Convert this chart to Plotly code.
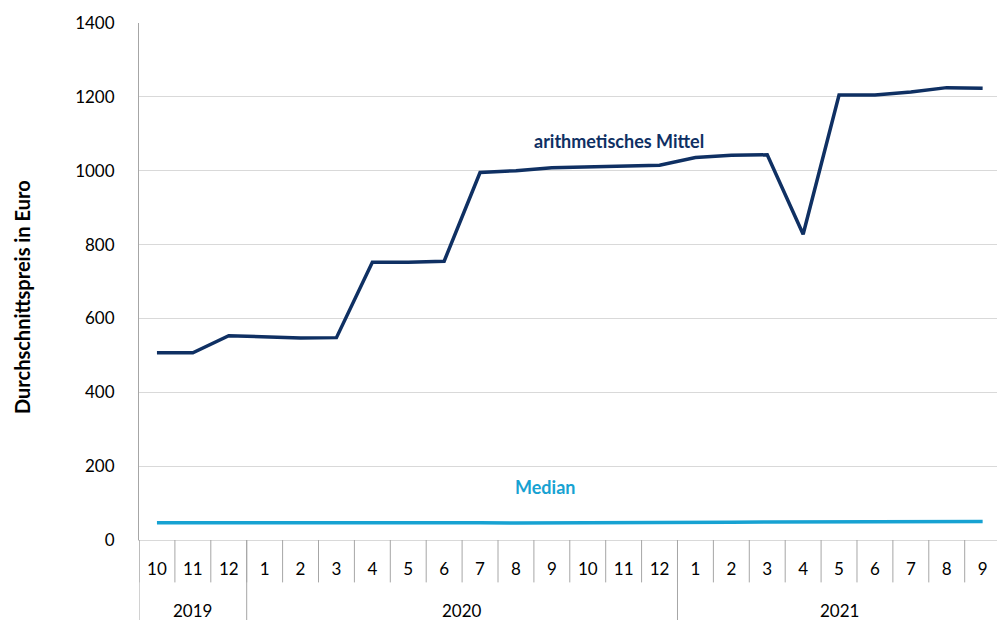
import plotly.graph_objects as go

months = ["10", "11", "12", "1", "2", "3", "4", "5", "6", "7", "8", "9", "10", "11", "12",
          "1", "2", "3", "4", "5", "6", "7", "8", "9"]
years = ["2019", "2020", "2021"]
year_counts = [3, 12, 9]
mittel = [507, 507, 553, 549, 547, 548, 752, 752, 755, 995, 1000, 1008, 1010, 1014, 1015,
          1036, 1042, 1043, 828, 1205, 1205, 1213, 1225, 1223]
median = [47, 47, 47, 48, 49, 48, 48, 48, 49, 47, 46, 46, 46, 47, 47,
          47, 48, 49, 49, 49, 49, 50, 50, 50]
y_ticks = [0, 200, 400, 600, 800, 1000, 1200, 1400]

NAVY = "#0f3063"
BLUE = "#17a2d2"
FONT = "Lato"

x = list(range(len(months)))

fig = go.Figure()
fig.add_trace(go.Scatter(x=x, y=mittel, mode="lines", line=dict(color=NAVY, width=3.5),
                         name="arithmetisches Mittel", showlegend=False))
fig.add_trace(go.Scatter(x=x, y=median, mode="lines", line=dict(color=BLUE, width=3.5),
                         name="Median", showlegend=False))

shapes = []
# month dividers
for i in range(len(months) + 1):
    shapes.append(dict(type="line", xref="x", yref="paper", x0=i - 0.5, x1=i - 0.5,
                       y0=0, y1=-0.082, line=dict(color="#a6a6a6", width=1)))
# year dividers
b = -0.5
annotations = []
for yr, c in zip(years, year_counts):
    shapes.append(dict(type="line", xref="x", yref="paper", x0=b, x1=b,
                       y0=0, y1=-0.16, line=dict(color="#a6a6a6", width=1)))
    annotations.append(dict(x=b + c / 2, y=-0.137, xref="x", yref="paper", text=yr,
                            showarrow=False, font=dict(size=17, color="#000000", family=FONT),
                            xanchor="center", yanchor="middle"))
    b += c

annotations.append(dict(x=12.86, y=1080, xref="x", yref="y", text="<b>arithmetisches Mittel</b>",
                        showarrow=False, font=dict(size=18, color=NAVY, family=FONT)))
annotations.append(dict(x=10.8, y=143, xref="x", yref="y", text="<b>Median</b>",
                        showarrow=False, font=dict(size=18, color=BLUE, family=FONT)))
annotations.append(dict(x=-(139 - 22) / 858, y=0.47, xref="paper", yref="paper",
                        text="<b>Durchschnittspreis in Euro</b>", textangle=-90,
                        showarrow=False, font=dict(size=20, color="#000000", family=FONT),
                        xanchor="center", yanchor="middle"))

fig.update_layout(
    width=997, height=620,
    margin=dict(l=139, r=0, t=23, b=80),
    paper_bgcolor="white", plot_bgcolor="white",
    font=dict(family=FONT, size=17, color="#000000"),
    shapes=shapes, annotations=annotations,
    xaxis=dict(range=[-0.5, 23.4], tickmode="array", tickvals=x, ticktext=months,
               showgrid=False, zeroline=False, showline=True, linecolor="#d9d9d9",
               ticks="", ticklabelstandoff=14, tickfont=dict(size=17, family=FONT)),
    yaxis=dict(range=[0, 1400], tickmode="array", tickvals=y_ticks,
               showgrid=True, gridcolor="#d9d9d9", gridwidth=1, zeroline=False,
               showline=True, linecolor="#a6a6a6", ticks="", ticklabelstandoff=20,
               tickfont=dict(size=17, family=FONT)),
)

fig.write_html("out.html", config={"displayModeBar": False},
               post_script="document.body.style.margin='0';document.body.style.padding='0';document.body.style.overflow='hidden';")
